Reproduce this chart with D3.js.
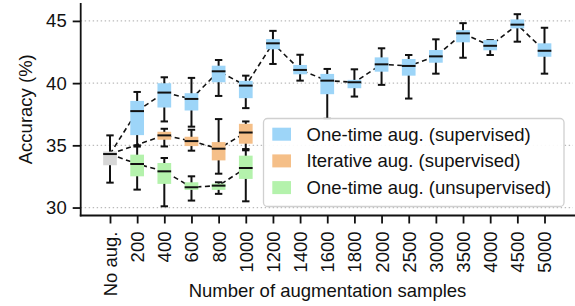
<!DOCTYPE html>
<html>
<head>
<meta charset="utf-8">
<script src="https://cdn.jsdelivr.net/npm/d3@7"></script>
<style>
  body { margin: 0; background: #fff; }
  svg { display: block; font-family: "Liberation Sans", Arial, sans-serif; }
</style>
</head>
<body>
<svg id="chart" width="575" height="306"></svg>
<script>
// x categories (number of augmentation samples)
var categories = ["No aug.", "200", "400", "600", "800", "1000", "1200", "1400", "1600",
                  "1800", "2000", "2500", "3000", "3500", "4000", "4500", "5000"];
var yTicks = [30, 35, 40, 45];

// box stats: [whisker low, q1, median, q3, whisker high]
var baselineBox = [32.0, 33.4, 34.3, 34.5, 35.8];

var oneTimeSup = [
  [35.0, 35.82, 37.75, 38.57, 39.29],
  [36.92, 38.04, 39.24, 39.99, 40.47],
  [36.5, 37.8, 38.73, 39.19, 40.42],
  [38.97, 40.07, 40.95, 41.4, 41.86],
  [37.99, 38.79, 39.8, 40.18, 40.6],
  [41.54, 42.72, 43.2, 43.54, 44.2],
  [40.2, 40.71, 41.06, 41.46, 42.28],
  [37.13, 39.11, 40.2, 40.74, 41.14],
  [38.92, 39.59, 40.07, 40.26, 41.11],
  [39.86, 40.92, 41.51, 42.07, 42.8],
  [38.76, 40.6, 41.38, 41.94, 42.26],
  [40.76, 41.64, 42.15, 42.66, 43.52],
  [42.04, 43.28, 44.0, 44.26, 44.82],
  [42.26, 42.64, 43.0, 43.46, 43.46],
  [43.33, 44.4, 44.7, 45.12, 45.54],
  [40.76, 42.12, 42.6, 43.2, 44.45]
];
var oneTimeSupCats = categories.slice(1);

var iterativeSup = [
  [34.91, 35.45, 35.8, 36.09, 36.33],
  [34.57, 34.94, 35.34, 35.69, 36.25],
  [32.72, 33.79, 34.73, 35.26, 37.11],
  [34.7, 35.13, 36.03, 36.73, 36.92]
];
var iterativeSupCats = ["400", "600", "800", "1000"];

var oneTimeUnsup = [
  [31.44, 32.51, 33.5, 34.25, 34.9],
  [30.1, 31.9, 32.91, 33.58, 33.98],
  [30.56, 31.42, 31.63, 32.03, 32.51],
  [31.1, 31.42, 31.76, 31.92, 32.03],
  [30.5, 32.3, 33.18, 34.17, 34.6]
];
var oneTimeUnsupCats = ["200", "400", "600", "800", "1000"];

var seriesNames = ["One-time aug. (supervised)", "Iterative aug. (supervised)", "One-time aug. (unsupervised)"];
var seriesColors = ["#9dd5f8", "#f5bf88", "#b4f2ac"];

(function() {
  var svg = d3.select("#chart"),
      plotLeft = 80.7, plotRight = 573, plotTop = 3, plotBottom = 215.5,
      fontSize = "18.5px";

  var x = d3.scalePoint()
      .domain(categories)
      .range([110, 544.5]);

  var y = d3.scaleLinear()
      .domain([29.36, 46.44])
      .range([plotBottom, plotTop]);

  var boxW = 13.7, capW = 7.4;

  // grid lines
  svg.append("g").selectAll("line")
      .data(yTicks)
      .enter().append("line")
        .attr("x1", plotLeft).attr("x2", plotRight)
        .attr("y1", function(d) { return y(d); })
        .attr("y2", function(d) { return y(d); })
        .attr("stroke", "#bbb")
        .attr("stroke-width", 1.3)
        .attr("stroke-dasharray", "1.4,2.6");

  var series = [
    {name: seriesNames[0], color: seriesColors[0], cats: oneTimeSupCats, boxes: oneTimeSup},
    {name: seriesNames[1], color: seriesColors[1], cats: iterativeSupCats, boxes: iterativeSup},
    {name: seriesNames[2], color: seriesColors[2], cats: oneTimeUnsupCats, boxes: oneTimeUnsup}
  ];

  // dashed median lines, starting from the baseline
  var line = d3.line()
      .x(function(d) { return x(d.cat); })
      .y(function(d) { return y(d.box[2]); });

  series.forEach(function(s) {
    var pts = [{cat: categories[0], box: baselineBox}].concat(
        s.boxes.map(function(b, i) { return {cat: s.cats[i], box: b}; }));
    svg.append("path")
        .attr("d", line(pts))
        .attr("fill", "none")
        .attr("stroke", "#111")
        .attr("stroke-width", 1.6)
        .attr("stroke-dasharray", "5,3.5");
  });

  function drawBoxes(data, color) {
    var g = svg.append("g").selectAll("g")
        .data(data)
        .enter().append("g")
          .attr("transform", function(d) { return "translate(" + x(d.cat) + ",0)"; });

    g.append("line")
        .attr("y1", function(d) { return y(d.box[0]); })
        .attr("y2", function(d) { return y(d.box[4]); })
        .attr("stroke", "#111").attr("stroke-width", 2);
    g.append("line")
        .attr("x1", -capW / 2).attr("x2", capW / 2)
        .attr("y1", function(d) { return y(d.box[0]); })
        .attr("y2", function(d) { return y(d.box[0]); })
        .attr("stroke", "#111").attr("stroke-width", 2);
    g.append("line")
        .attr("x1", -capW / 2).attr("x2", capW / 2)
        .attr("y1", function(d) { return y(d.box[4]); })
        .attr("y2", function(d) { return y(d.box[4]); })
        .attr("stroke", "#111").attr("stroke-width", 2);
    g.append("rect")
        .attr("x", -boxW / 2)
        .attr("width", boxW)
        .attr("y", function(d) { return y(d.box[3]); })
        .attr("height", function(d) { return y(d.box[1]) - y(d.box[3]); })
        .attr("fill", color);
    g.append("line")
        .attr("x1", -boxW / 2).attr("x2", boxW / 2)
        .attr("y1", function(d) { return y(d.box[2]); })
        .attr("y2", function(d) { return y(d.box[2]); })
        .attr("stroke", "#111").attr("stroke-width", 2);
  }

  drawBoxes([{cat: categories[0], box: baselineBox}], "#d6d6d6");
  series.forEach(function(s) {
    drawBoxes(s.boxes.map(function(b, i) { return {cat: s.cats[i], box: b}; }), s.color);
  });

  // axes
  var yAxis = svg.append("g")
      .attr("transform", "translate(" + plotLeft + ",0)")
      .call(d3.axisLeft(y).tickValues(yTicks).tickSize(8).tickPadding(6));
  var xAxis = svg.append("g")
      .attr("transform", "translate(0," + plotBottom + ")")
      .call(d3.axisBottom(x).tickSize(8).tickPadding(8));

  [yAxis, xAxis].forEach(function(a) {
    a.select(".domain").remove();
    a.selectAll(".tick line").attr("stroke", "#111").attr("stroke-width", 1.8);
    a.selectAll(".tick text").attr("fill", "#111").style("font-size", fontSize)
        .style("font-family", "'Liberation Sans', Arial, sans-serif");
  });

  xAxis.selectAll(".tick text")
      .attr("transform", "rotate(-90)")
      .attr("text-anchor", "end")
      .attr("x", -16)
      .attr("y", 0)
      .attr("dy", "0.35em");

  svg.append("line")
      .attr("x1", plotLeft).attr("x2", plotLeft)
      .attr("y1", plotTop).attr("y2", plotBottom + 0.9)
      .attr("stroke", "#111").attr("stroke-width", 1.8);
  svg.append("line")
      .attr("x1", plotLeft - 0.9).attr("x2", plotRight + 2)
      .attr("y1", plotBottom).attr("y2", plotBottom)
      .attr("stroke", "#111").attr("stroke-width", 1.8);

  // axis titles
  svg.append("text")
      .attr("transform", "translate(32," + ((plotTop + plotBottom) / 2) + ") rotate(-90)")
      .attr("text-anchor", "middle")
      .style("font-size", fontSize)
      .attr("fill", "#111")
      .text("Accuracy (%)");

  svg.append("text")
      .attr("x", 327.5)
      .attr("y", 297)
      .attr("text-anchor", "middle")
      .style("font-size", fontSize)
      .attr("fill", "#111")
      .text("Number of augmentation samples");

  // legend
  var legend = svg.append("g");
  legend.append("rect")
      .attr("x", 263.5).attr("y", 118.5)
      .attr("width", 300.5).attr("height", 88)
      .attr("rx", 4)
      .attr("fill", "#fff").attr("fill-opacity", 0.92)
      .attr("stroke", "#d0d0d0").attr("stroke-width", 1.3);

  var items = legend.selectAll(".item")
      .data(series)
      .enter().append("g")
        .attr("class", "item")
        .attr("transform", function(d, i) { return "translate(0," + (134.2 + i * 26.7) + ")"; });

  items.append("rect")
      .attr("x", 272.3).attr("y", -6.5)
      .attr("width", 18.7).attr("height", 13)
      .attr("fill", function(d) { return d.color; });

  items.append("text")
      .attr("x", 306.5)
      .attr("dy", "0.35em")
      .style("font-size", fontSize)
      .attr("fill", "#111")
      .text(function(d) { return d.name; });
})();
</script>
</body>
</html>
